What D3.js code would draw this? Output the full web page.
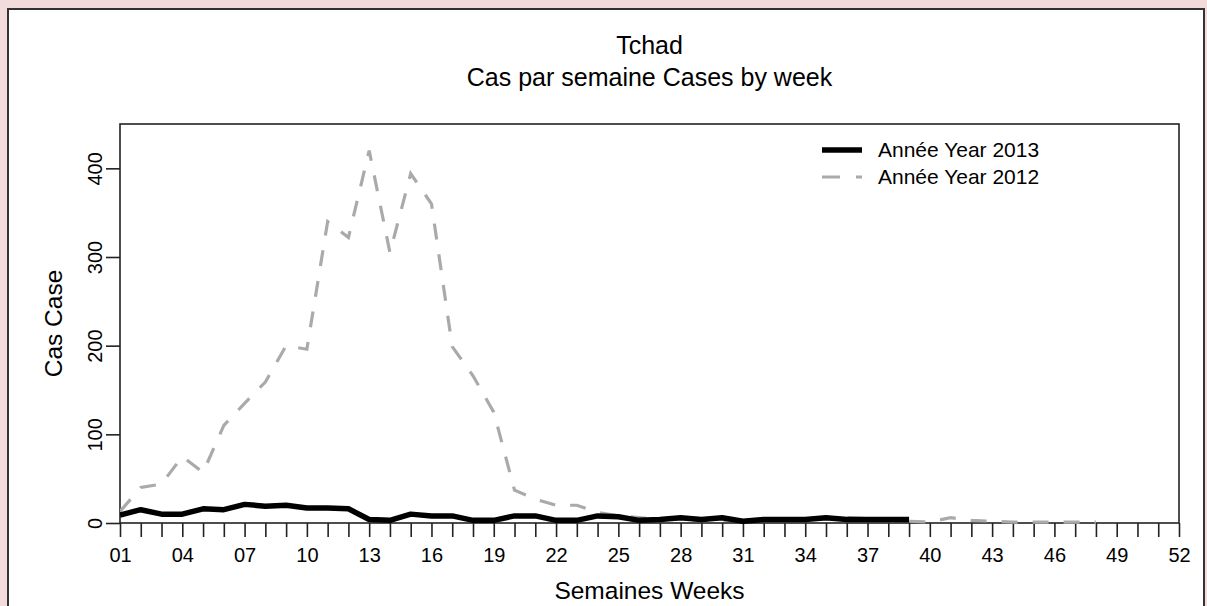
<!DOCTYPE html>
<html>
<head>
<meta charset="utf-8">
<script src="https://cdn.jsdelivr.net/npm/d3@7"></script>
<style>
  html, body { margin: 0; padding: 0; background: #f2dcdb; }
  svg { display: block; }
  text { font-family: "Liberation Sans", Arial, sans-serif; fill: #000; }
</style>
</head>
<body>
<svg id="chart" width="1207" height="606"></svg>
<script>
// ---- data ----
const weeks2013 = d3.range(1, 40);               // weeks 1..39
const cases2013 = [9, 15, 10, 10, 16, 15, 21, 19, 20, 17,
                   17, 16, 4, 3, 10, 8, 8, 3, 3, 8,
                   8, 3, 3, 8, 7, 3, 4, 6, 4, 6,
                   2, 4, 4, 4, 6, 4, 4, 4, 4];
const weeks2012 = d3.range(1, 49);               // weeks 1..48
const cases2012 = [13, 40, 44, 75, 57, 110, 135, 159, 200, 196,
                   340, 322, 420, 305, 394, 360, 199, 166, 125, 37,
                   27, 20, 20, 12, 8, 6, 4, 4, 3, 3,
                   3, 3, 3, 4, 5, 6, 5, 3, 2, 1,
                   6, 3, 2, 1, 1, 1, 1, 1];
const yTicks = [0, 100, 200, 300, 400];
const xLabelWeeks = d3.range(1, 53, 3);          // 01, 04, ..., 52
const seriesNames = ["Année Year 2013", "Année Year 2012"];
const titleText = "Tchad";
const subtitleText = "Cas par semaine Cases by week";
const xTitle = "Semaines Weeks";
const yTitle = "Cas Case";

// ---- layout ----
const svg = d3.select("#chart");
const plot = { left: 120, right: 1179, top: 124, bottom: 523 };

// outer white panel
svg.append("rect")
  .attr("x", 8).attr("y", 9).attr("width", 1196).attr("height", 620)
  .attr("fill", "#fff").attr("stroke", "#333").attr("stroke-width", 2);

const x = d3.scaleLinear().domain([1, 52]).range([plot.left, plot.right]);
const y = d3.scaleLinear().domain([0, 450]).range([plot.bottom, plot.top]);

// plot box
svg.append("rect")
  .attr("x", plot.left).attr("y", plot.top)
  .attr("width", plot.right - plot.left).attr("height", plot.bottom - plot.top)
  .attr("fill", "none").attr("stroke", "#222").attr("stroke-width", 1.6);

// x axis
const xAxis = d3.axisBottom(x)
  .tickValues(d3.range(1, 53))
  .tickSize(14)
  .tickFormat(d => xLabelWeeks.includes(d) ? d3.format("02d")(d) : "");
const gx = svg.append("g").attr("transform", `translate(0,${plot.bottom})`).call(xAxis);
gx.select(".domain").remove();
gx.selectAll(".tick line").attr("stroke", "#222").attr("stroke-width", 1.6);
gx.selectAll(".tick text").attr("font-size", 20).attr("dy", "0.71em").attr("y", 25)
  .style("font-family", "'Liberation Sans', Arial, sans-serif").attr("fill", "#000");

// y axis
const yAxis = d3.axisLeft(y).tickValues(yTicks).tickSize(14).tickFormat(d3.format("d"));
const gy = svg.append("g").attr("transform", `translate(${plot.left},0)`).call(yAxis);
gy.select(".domain").remove();
gy.selectAll(".tick line").attr("stroke", "#222").attr("stroke-width", 1.6);
gy.selectAll(".tick text")
  .attr("font-size", 20)
  .attr("x", null).attr("dy", null)
  .attr("text-anchor", "middle")
  .attr("transform", "translate(-18,0) rotate(-90)")
  .style("font-family", "'Liberation Sans', Arial, sans-serif").attr("fill", "#000");

// titles
const cx = (plot.left + plot.right) / 2;
svg.append("text").attr("x", cx).attr("y", 54).attr("text-anchor", "middle")
  .attr("font-size", 25).text(titleText);
svg.append("text").attr("x", cx).attr("y", 86).attr("text-anchor", "middle")
  .attr("font-size", 25).text(subtitleText);
svg.append("text").attr("x", cx).attr("y", 599).attr("text-anchor", "middle")
  .attr("font-size", 24.5).text(xTitle);
svg.append("text").attr("transform", `translate(62,${(plot.top + plot.bottom) / 2}) rotate(-90)`)
  .attr("text-anchor", "middle").attr("font-size", 24.5).text(yTitle);

// lines
const line = d3.line().x(d => x(d[0])).y(d => y(d[1]));
svg.append("clipPath").attr("id", "clip").append("rect")
  .attr("x", plot.left).attr("y", plot.top)
  .attr("width", plot.right - plot.left).attr("height", plot.bottom - plot.top + 4);

svg.append("path")
  .datum(d3.zip(weeks2012, cases2012))
  .attr("d", line).attr("fill", "none")
  .attr("stroke", "#aaaaaa").attr("stroke-width", 3.2)
  .attr("stroke-dasharray", "16,15")
  .attr("clip-path", "url(#clip)");

svg.append("path")
  .datum(d3.zip(weeks2013, cases2013))
  .attr("d", line).attr("fill", "none")
  .attr("stroke", "#000").attr("stroke-width", 5.5)
  .attr("stroke-linejoin", "round")
  .attr("clip-path", "url(#clip)");

// legend
const lg = svg.append("g");
const lgStyles = [
  { color: "#000", width: 5.5, dash: null },
  { color: "#aaaaaa", width: 3.2, dash: "18,16" }
];
seriesNames.forEach((name, i) => {
  const ly = 150 + i * 27;
  lg.append("line").attr("x1", 822).attr("x2", 862).attr("y1", ly).attr("y2", ly)
    .attr("stroke", lgStyles[i].color).attr("stroke-width", lgStyles[i].width)
    .attr("stroke-dasharray", lgStyles[i].dash);
  lg.append("text").attr("x", 878).attr("y", ly + 7).attr("font-size", 21).text(name);
});
</script>
</body>
</html>
